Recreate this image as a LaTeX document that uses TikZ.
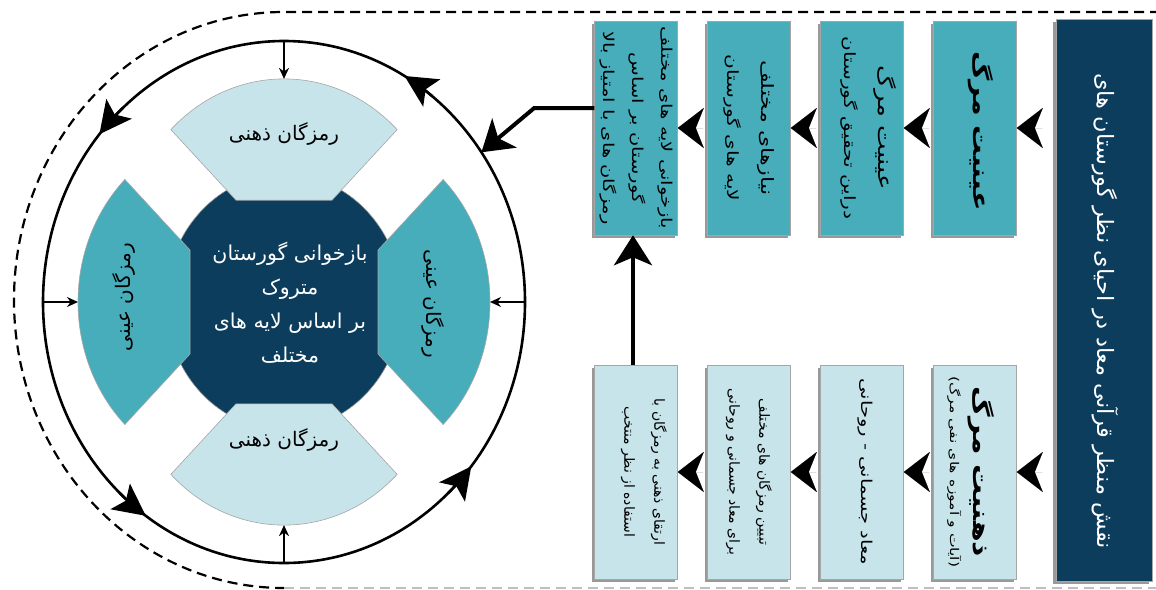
\documentclass[tikz,border=0pt]{standalone}
\usepackage{fontspec}
\newfontfamily\fa[Script=Arabic]{DejaVu Sans}
\newfontfamily\faW[Script=Arabic,FakeStretch=1.3]{DejaVu Sans}
\TeXXeTstate=1
\usetikzlibrary{arrows.meta,shadows,calc}
\definecolor{navy}{HTML}{0C3D5C}
\definecolor{tealbox}{HTML}{48ADBB}
\definecolor{lightb}{HTML}{C6E4EA}
\newcommand{\rtlt}[1]{\beginR #1\endR}
\begin{document}
\begin{tikzpicture}[x=1pt,y=1pt,
  box/.style={draw=black!35, line width=0.5pt, minimum width=83pt, minimum height=214pt, inner sep=0pt,
    drop shadow={shadow xshift=-3pt,shadow yshift=-3pt,fill=black!50,opacity=0.8}},
  tbox/.style={box, fill=tealbox},
  lbox/.style={box, fill=lightb},
  btext/.style={rotate=-90, align=center, text=black, font=\faW\fontsize{15.5}{31}\selectfont},
  bbtext/.style={rotate=-90, align=center, text=black, font=\fa\fontsize{14}{30}\selectfont},
  procarrow/.style={-{Stealth[length=26pt,width=40pt,inset=8pt]}, line width=0.01pt},
  bigline/.style={line width=4pt, -{Stealth[length=30pt,width=38pt,inset=8pt]}},
  ring/.style={line width=2.6pt},
  ringtip/.style={line width=2.6pt, -{Stealth[length=32pt,width=32pt,inset=7pt]}},
  tick/.style={line width=1.6pt, -{Stealth[length=11pt,width=10pt]}},
  dashline/.style={line width=2.2pt, dash pattern=on 10pt off 6pt},
  ctext/.style={align=center, text=white, font=\fa\fontsize{20.5}{34}\selectfont},
  wtext/.style={text=black, font=\fa\fontsize{20}{24}\selectfont}
]
\useasboundingbox (0,0) rectangle (1156,-589);

% outer dashed frame
\draw[dashline] (1160,-12) -- (284,-12) arc[start angle=90,end angle=270,x radius=270,y radius=288];
\draw[dashline, draw=black!25] (284,-588) -- (1160,-588);

% boxes
\node[box, fill=navy, minimum width=96pt, minimum height=562pt] (dark) at (1104,-300) {};
\node[rotate=-90, text=white, font=\fa\fontsize{22.5}{24}\selectfont] (darkt) at (1105,-311) {\rtlt{نقش منظر قرآنی معاد در احیای نظر گورستان های}};

\node[tbox] (b1t) at (975,-128) {};
\node[tbox] (b2t) at (862,-128) {};
\node[tbox] (b3t) at (749,-128) {};
\node[tbox] (b4t) at (636,-128) {};
\node[lbox] (b1b) at (975,-472) {};
\node[lbox] (b2b) at (862,-472) {};
\node[lbox] (b3b) at (749,-472) {};
\node[lbox] (b4b) at (636,-472) {};

\node[rotate=-90, text=black, font=\faW\bfseries\fontsize{22}{29}\selectfont] (b1tt) at ([xshift=6pt,yshift=-3pt]b1t.center) {\rtlt{عینیت مرگ}};
\node[btext, font=\faW\fontsize{15.5}{34}\selectfont] (b2tt) at ([xshift=7pt]b2t.center) {{\fontsize{20}{34}\selectfont\rtlt{عینیت مرگ}}\\\rtlt{دراین تحقیق گورستان}};
\node[btext, font=\faW\fontsize{15.5}{34}\selectfont] (b3tt) at (b3t) {{\fontsize{17}{34}\selectfont\rtlt{نیازهای مختلف}}\\\rtlt{لایه های گورستان}};
\node[btext, font=\faW\fontsize{15}{29}\selectfont] (b4tt) at (b4t) {\rtlt{بازخوانی لایه های مختلف}\\\rtlt{گورستان بر اساس}\\\rtlt{رمزگان های با امتیاز بالا}};
\node[rotate=-90, align=center, text=black] (b1bt) at ([xshift=-4pt]b1b.center) {{\faW\bfseries\fontsize{23}{26}\selectfont\rtlt{ذهنیت مرگ}}\\[6pt]{\faW\fontsize{12}{14}\selectfont\rtlt{(آیات و آموزه های نفی مرگ)}}};
\node[btext, font=\faW\fontsize{15}{30}\selectfont] (b2bt) at ([xshift=3pt]b2b.center) {\rtlt{معاد جسمانی - روحانی}};
\node[bbtext] (b3bt) at (b3b) {\rtlt{تبیین رمزگان های مختلف}\\\rtlt{برای معاد جسمانی و روحانی}};
\node[bbtext] (b4bt) at ([xshift=8pt]b4b.center) {\rtlt{ارتقای ذهنی به رمزگان با}\\\rtlt{استفاده از نظر منتخب}};

% process arrows
\draw[procarrow, shorten <=13.5pt] (dark.west |- b1t.east) -- (b1t.east);
\draw[procarrow, shorten <=4pt] (b1t.west) -- (b2t.east);
\draw[procarrow, shorten <=4pt] (b2t.west) -- (b3t.east);
\draw[procarrow, shorten <=4pt] (b3t.west) -- (b4t.east);
\draw[procarrow, shorten <=13.5pt] (dark.west |- b1b.east) -- (b1b.east);
\draw[procarrow, shorten <=4pt] (b1b.west) -- (b2b.east);
\draw[procarrow, shorten <=4pt] (b2b.west) -- (b3b.east);
\draw[procarrow, shorten <=4pt] (b3b.west) -- (b4b.east);
\draw[bigline] ([xshift=-3pt]b4b.north) -- ([xshift=-3pt]b4t.south);

% cycle
\begin{scope}[shift={(284,-302)}, yscale=1.083]
  \filldraw[fill=navy, draw=black!40, line width=0.6pt] (0,0) circle (118);
  \foreach \a/\c in {90/lightb,270/lightb,0/tealbox,180/tealbox}
    \filldraw[fill=\c, draw=black!35, line width=0.6pt]
      ($(\a:94)+({\a-90}:48)$) -- ($(\a:46)+({\a-45}:160)$)
      arc[start angle={\a-45}, end angle={\a+45}, radius=160]
      -- ($(\a:94)+({\a+90}:48)$) -- cycle;
  \draw[ring] (0,0) circle (241);
  \foreach \t in {60,140,235,321}
    \draw[ringtip] ({\t-8}:241) arc[start angle={\t-8}, end angle=\t, radius=241];
  \foreach \a/\n in {90/T,270/B,0/R,180/L} {
    \coordinate (r\n) at (\a:241);
    \coordinate (w\n) at (\a:206);
  }
  \coordinate (ringin) at (35:241);
\end{scope}
\foreach \n in {T,B,R,L} \draw[tick] (r\n) -- (w\n);

\node[ctext] (ctr) at (290,-303) {\rtlt{بازخوانی گورستان}\\\rtlt{متروک}\\\rtlt{بر اساس لایه های}\\\rtlt{مختلف}};
\node[wtext] (wtop) at (284,-134) {\rtlt{رمزگان ذهنی}};
\node[wtext] (wbot) at (284,-440) {\rtlt{رمزگان ذهنی}};
\node[wtext, rotate=-90] (wright) at (433,-304) {\rtlt{رمزگان عینی}};
\node[wtext, rotate=90] (wleft) at (124,-297) {\rtlt{رمزگان عینی}};

\draw[bigline] ([yshift=20pt]b4t.west) -- ++(-60,0) -- (ringin);
\end{tikzpicture}
\end{document}
